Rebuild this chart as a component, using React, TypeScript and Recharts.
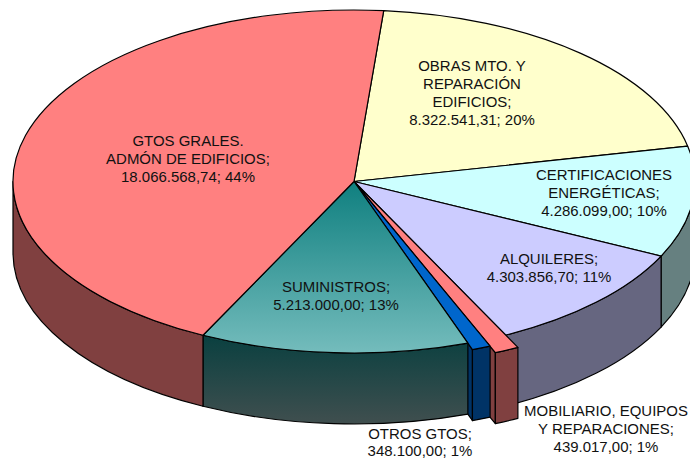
import { PieChart, Pie } from 'recharts'

const names = ['OBRAS', 'CERTIFICACIONES', 'ALQUILERES', 'MOBILIARIO', 'OTROS', 'SUMINISTROS', 'GTOS']
const values = [8322541.31, 4286099.0, 4303856.7, 439017.0, 348100.0, 5213000.0, 18066568.74]
const labelLines = [
  ['OBRAS MTO. Y', 'REPARACIÓN', 'EDIFICIOS;', '8.322.541,31; 20%'],
  ['CERTIFICACIONES', 'ENERGÉTICAS;', '4.286.099,00; 10%'],
  ['ALQUILERES;', '4.303.856,70; 11%'],
  ['MOBILIARIO, EQUIPOS', 'Y REPARACIONES;', '439.017,00; 1%'],
  ['OTROS GTOS;', '348.100,00; 1%'],
  ['SUMINISTROS;', '5.213.000,00; 13%'],
  ['GTOS GRALES.', 'ADMÓN DE EDIFICIOS;', '18.066.568,74; 44%'],
]

// styling, separate from the values
const topFills = ['#FFFFCC', '#CCFFFF', '#CCCCFF', '#FF8080', '#0066CC', 'url(#gSumTop)', '#FF8080']
const wallFills = ['#808066', '#668080', '#666680', '#804040', '#003366', 'url(#gSumWall)', '#804040']
const bumps = [1, 1, 1, 1.08, 1.04, 1, 1]
const labelAnchors = [
  [472, 71], [604, 180], [549, 264], [606, 416], [420, 439], [336, 292], [188, 146],
]
const lineGaps = [18, 18, 18, 18, 17, 18, 18]

const CX = 354
const CY = 181.5
const R = 341
const SQUASH = 171.5 / 341
const DEPTH = 71

const tableData = names.map((name, i) => ({
  name,
  value: values[i],
  fill: topFills[i],
  wall: wallFills[i],
  bump: bumps[i],
}))

// recharts hands over math angles, turned here into the squashed ellipse
function pt(angle: number, k: number, drop = 0) {
  const a = (angle * Math.PI) / 180
  return `${(CX + R * k * Math.cos(a)).toFixed(2)} ${(CY - R * k * SQUASH * Math.sin(a) + drop).toFixed(2)}`
}

function TopFace(props: any) {
  const { startAngle, endAngle, fill } = props
  const bump = props.payload?.bump ?? props.bump ?? 1
  const rx = R * bump
  const ry = rx * SQUASH
  const large = Math.abs(endAngle - startAngle) > 180 ? 1 : 0
  const d = `M ${CX} ${CY} L ${pt(startAngle, bump)} A ${rx} ${ry} 0 ${large} 1 ${pt(endAngle, bump)} Z`
  return <path d={d} fill={fill} stroke="#000" strokeWidth={1.2} strokeLinejoin="round" />
}

function SideWall(props: any) {
  const { startAngle, endAngle } = props
  const wall = props.payload?.wall ?? props.wall
  const bump = props.payload?.bump ?? props.bump ?? 1
  const rx = R * bump
  const ry = rx * SQUASH
  // only the front half of the rim faces the viewer
  const from = Math.min(startAngle, 0)
  const to = Math.max(endAngle, -180)
  const stroke = { stroke: '#000', strokeWidth: 1.2, strokeLinejoin: 'round' as const }
  return (
    <g>
      {bump > 1 && (
        <path
          d={`M ${CX} ${CY} L ${pt(endAngle, bump)} L ${pt(endAngle, bump, DEPTH)} L ${CX} ${CY + DEPTH} Z`}
          fill={wall}
          {...stroke}
        />
      )}
      {from > to && (
        <path
          d={`M ${pt(from, bump)} A ${rx} ${ry} 0 0 1 ${pt(to, bump)} L ${pt(to, bump, DEPTH)} A ${rx} ${ry} 0 0 0 ${pt(from, bump, DEPTH)} Z`}
          fill={wall}
          {...stroke}
        />
      )}
    </g>
  )
}

function SliceLabel(props: any) {
  const i = props.index
  const [x, y] = labelAnchors[i]
  // the reference text is a little stretched sideways
  return (
    <text
      transform={`translate(${x} ${y}) scale(1.07 1)`}
      textAnchor="middle"
      fontFamily="'Liberation Sans', Arial, sans-serif"
      fontSize={14}
      fill="#111"
    >
      {labelLines[i].map((line, n) => (
        <tspan key={n} x={0} y={n * lineGaps[i]}>{line}</tspan>
      ))}
    </text>
  )
}

export default function App() {
  return (
    <div style={{ position: 'absolute', left: 0, top: 0, width: 690, height: 459, background: '#fff', overflow: 'hidden' }}>
      <PieChart width={690} height={459} margin={{ top: 0, right: 0, bottom: 0, left: 0 }}>
        <defs>
          <linearGradient id="gSumTop" gradientUnits="userSpaceOnUse" x1="0" y1="183" x2="0" y2="353">
            <stop offset="0%" stopColor="#108080" />
            <stop offset="100%" stopColor="#74BCBC" />
          </linearGradient>
          <linearGradient id="gSumWall" gradientUnits="userSpaceOnUse" x1="0" y1="336" x2="0" y2="424">
            <stop offset="0%" stopColor="#0A4040" />
            <stop offset="100%" stopColor="#404F4F" />
          </linearGradient>
        </defs>
        <Pie
          data={tableData}
          dataKey="value"
          cx={CX}
          cy={CY}
          outerRadius={R}
          startAngle={85}
          endAngle={-275}
          shape={SideWall}
          isAnimationActive={false}
        />
        <Pie
          data={tableData}
          dataKey="value"
          cx={CX}
          cy={CY}
          outerRadius={R}
          startAngle={85}
          endAngle={-275}
          shape={TopFace}
          label={SliceLabel}
          labelLine={false}
          isAnimationActive={false}
        />
      </PieChart>
    </div>
  )
}
